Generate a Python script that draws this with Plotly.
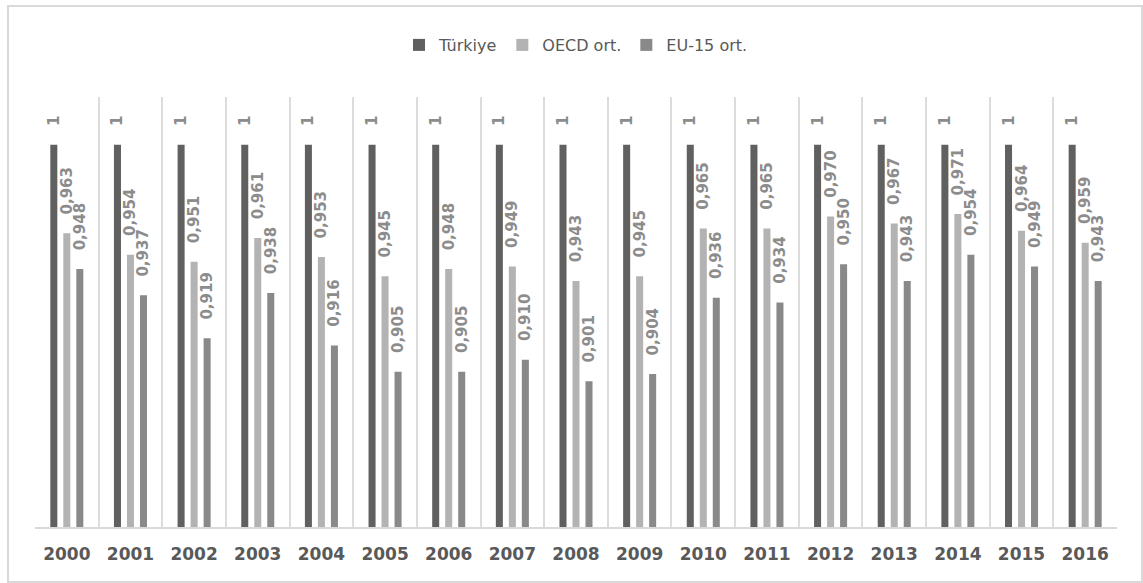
import plotly.graph_objects as go

# Years on the category axis
years = ["2000", "2001", "2002", "2003", "2004", "2005", "2006", "2007", "2008",
         "2009", "2010", "2011", "2012", "2013", "2014", "2015", "2016"]

# Index values per series
turkiye = [1, 1, 1, 1, 1, 1, 1, 1, 1, 1, 1, 1, 1, 1, 1, 1, 1]
oecd_avg = [0.963, 0.954, 0.951, 0.961, 0.953, 0.945, 0.948, 0.949, 0.943,
            0.945, 0.965, 0.965, 0.970, 0.967, 0.971, 0.964, 0.959]
eu15_avg = [0.948, 0.937, 0.919, 0.938, 0.916, 0.905, 0.905, 0.910, 0.901,
            0.904, 0.936, 0.934, 0.950, 0.943, 0.954, 0.949, 0.943]

series = [
    ("Türkiye", turkiye, "#606060", "{:g}"),
    ("OECD ort.", oecd_avg, "#b3b3b3", "{:.3f}"),
    ("EU-15 ort.", eu15_avg, "#898989", "{:.3f}"),
]

PAD = "\u00a0\u00a0\u00a0"  # small gap between bar end and its rotated label


def label(fmt, v):
    return PAD + fmt.format(v).replace(".", ",")


fig = go.Figure()
for name, vals, color, fmt in series:
    fig.add_trace(go.Bar(
        name=name,
        x=years,
        y=vals,
        marker=dict(color=color, line=dict(width=0)),
        text=[label(fmt, v) for v in vals],
        textposition="outside",
        textangle=-90,
        constraintext="none",
        cliponaxis=False,
        textfont=dict(family="DejaVu Sans", size=15, color="#8c8c8c", weight="bold"),
    ))

W, H = 1143, 583
L, R, T, B = 35, 26, 97, 56
pw, ph = W - L - R, H - T - B

# Outer chart frame, expressed in paper coordinates
frame = dict(
    type="rect", xref="paper", yref="paper",
    x0=(8 - L) / pw, x1=(W - 1 - L) / pw,
    y0=(H - B - (H - 1)) / ph, y1=(H - B - 6) / ph,
    line=dict(color="#d9d9d9", width=2), fillcolor="rgba(0,0,0,0)", layer="below",
)

fig.update_layout(
    width=W, height=H,
    margin=dict(l=L, r=R, t=T, b=B),
    paper_bgcolor="white", plot_bgcolor="white",
    barmode="group", bargap=0.387, bargroupgap=0.46,
    showlegend=True,
    legend=dict(
        orientation="h", x=0.5, xanchor="center", y=(H - B - 45) / ph, yanchor="middle",
        font=dict(family="DejaVu Sans", size=16, color="#595959"),
        itemwidth=30, tracegroupgap=0,
    ),
    shapes=[frame],
    xaxis=dict(
        type="category", showgrid=True, gridcolor="#dcdcdc", gridwidth=2,
        tickson="boundaries", ticks="", showline=True, linecolor="#d9d9d9", linewidth=2,
        tickfont=dict(family="DejaVu Sans", size=17, color="#595959", weight="bold"),
        ticklabelstandoff=11,
    ),
    yaxis=dict(
        range=[0.84, 1.02], showgrid=False, showticklabels=False, zeroline=False,
        showline=False, ticks="",
    ),
)

fig.write_html("out.html")
